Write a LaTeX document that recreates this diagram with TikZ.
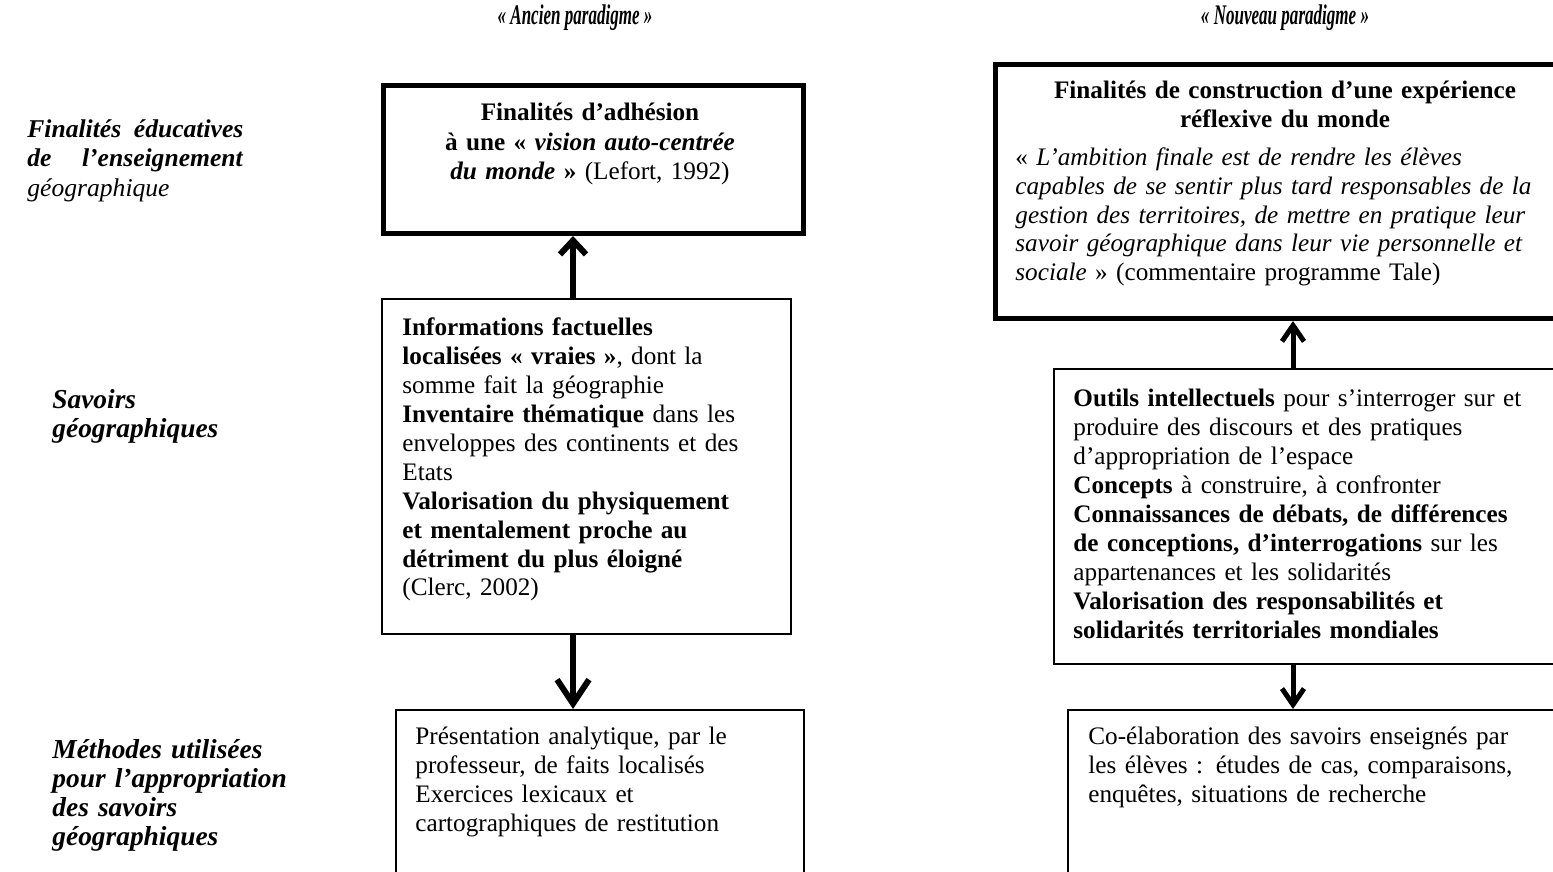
\documentclass[tikz,border=0pt]{standalone}
\usepackage{fontspec}
\setmainfont{Liberation Serif}
\usetikzlibrary{arrows.meta}
\tikzset{
  every node/.style={font=\fontsize{12.6pt}{14.5pt}\selectfont},
  lab/.style={anchor=base west, inner sep=0pt, align=left, text width=140pt, font=\fontsize{13.7pt}{14.5pt}\selectfont},
  head/.style={anchor=base, inner sep=0pt, xscale=0.6, transform shape, font=\fontsize{14.2pt}{14.5pt}\selectfont},
  thickbox/.style={draw, line width=2.5pt, rectangle, inner sep=0pt, anchor=north west},
  thinbox/.style={draw, line width=1pt, rectangle, inner sep=0pt, anchor=north west},
  txt/.style={anchor=base west, inner sep=0pt, align=left, text width=300pt},
  ctxt/.style={anchor=base, inner sep=0pt, align=center, text width=260pt},
  arr/.style={line width=3pt, -{Straight Barb[length=7pt,width=13pt]}},
  bigarr/.style={line width=3pt, -{Straight Barb[length=12pt,width=16pt]}},
  rarr/.style={line width=2.5pt, -{Straight Barb[length=8pt,width=11pt]}}
}
\begin{document}
\begin{tikzpicture}[x=0.5pt,y=-0.5pt]
\useasboundingbox (0,0) rectangle (1553,872);
\clip (0,0) rectangle (1553,872);
\fill[white] (0,0) rectangle (1553,872);
% headers
\node[head] (h1) at (575,25) {\textbf{\textit{« Ancien paradigme »}}};
\node[head] (h2) at (1285,25) {\textbf{\textit{« Nouveau paradigme »}}};
% left labels
\node[lab, text width=150pt, font=\fontsize{12.8pt}{14.5pt}\selectfont] (l1) at (27,138)
  {\leavevmode\hbox to 108pt{\textbf{\textit{Finalités\hfill éducatives}}}\\ \leavevmode\hbox to 108pt{\textbf{\textit{de\hfill l’enseignement}}}\\ \textit{géographique}};
\node[lab] (l2) at (52,408) {\textbf{\textit{Savoirs}}\\ \textbf{\textit{géographiques}}};
\node[lab] (l3) at (52,758) {\textbf{\textit{Méthodes utilisées}}\\ \textbf{\textit{pour l’appropriation}}\\ \textbf{\textit{des savoirs}}\\ \textbf{\textit{géographiques}}};
% boxes left
\node[thickbox, minimum width=210pt, minimum height=74pt] (a1) at (381,83) {};
\node[thinbox, minimum width=204.5pt, minimum height=167.5pt] (a2) at (381,298) {};
\node[thinbox, minimum width=204pt, minimum height=100pt] (a3) at (395,709) {};
% boxes right
\node[thickbox, minimum width=300pt, minimum height=127pt] (b1) at (993,62) {};
\node[thinbox, minimum width=300pt, minimum height=147.5pt] (b2) at (1053,368) {};
\node[thinbox, minimum width=300pt, minimum height=100pt] (b3) at (1067,709) {};
% texts left
\node[ctxt] (ta1) at (590,121) {\textbf{Finalités d’adhésion}\\ \textbf{à une « \textit{vision auto-centrée}}\\ \textbf{\textit{du monde} »} (Lefort, 1992)};
\node[txt] (ta2) at (402,335) {\textbf{Informations factuelles}\\
\textbf{localisées « vraies »}, dont la\\
somme fait la géographie\\
\textbf{Inventaire thématique} dans les\\
enveloppes des continents et des\\
Etats\\
\textbf{Valorisation du physiquement}\\
\textbf{et mentalement proche au}\\
\textbf{détriment du plus éloigné}\\
(Clerc, 2002)};
\node[txt] (ta3) at (415,744) {Présentation analytique, par le\\ professeur, de faits localisés\\ Exercices lexicaux et\\ cartographiques de restitution};
% texts right
\node[ctxt] (tb1) at (1285,98) {\textbf{Finalités de construction d’une expérience}\\ \textbf{réflexive du monde}};
\node[txt] (tb1b) at (1015,165) {« \textit{L’ambition finale est de rendre les élèves}\\
\textit{capables de se sentir plus tard responsables de la}\\
\textit{gestion des territoires, de mettre en pratique leur}\\
\textit{savoir géographique dans leur vie personnelle et}\\
\textit{sociale} » (commentaire programme Tale)};
\node[txt] (tb2) at (1073,406) {\textbf{Outils intellectuels} pour s’interroger sur et\\
produire des discours et des pratiques\\
d’appropriation de l’espace\\
\textbf{Concepts} à construire, à confronter\\
\textbf{Connaissances de débats, de différences}\\
\textbf{de conceptions, d’interrogations} sur les\\
appartenances et les solidarités\\
\textbf{Valorisation des responsabilités et}\\
\textbf{solidarités territoriales mondiales}};
\node[txt] (tb3) at (1088,744) {Co-élaboration des savoirs enseignés par\\ les élèves : études de cas, comparaisons,\\ enquêtes, situations de recherche};
% arrows
\coordinate (lx) at (573,0);
\coordinate (rx) at (1293,0);
\draw[arr] (lx |- a2.north) -- (lx |- a1.south);
\draw[bigarr] (lx |- a2.south) -- (lx |- a3.north);
\draw[rarr] (rx |- b2.north) -- (rx |- b1.south);
\draw[rarr] (rx |- b2.south) -- (rx |- b3.north);
\end{tikzpicture}
\end{document}
